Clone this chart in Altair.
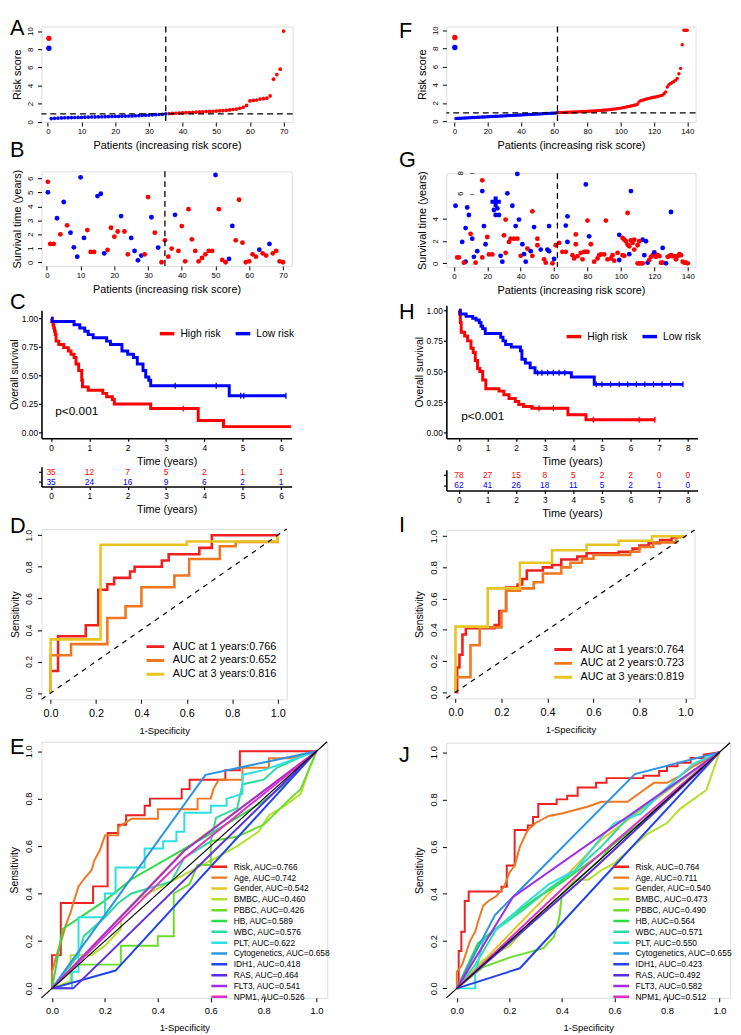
import altair as alt
import pandas as pd

FONT = "Liberation Sans"
RED = "#FF0000"
BLUE = "#0000FF"

# ---------------- A : risk score (training) ----------------
A_low = [0.35,0.38,0.40,0.42,0.44,0.45,0.46,0.47,0.48,0.49,0.50,0.51,0.52,0.53,0.54,0.55,0.56,0.57,0.58,0.59,
         0.60,0.61,0.62,0.63,0.64,0.66,0.68,0.70,0.72,0.74,0.76,0.78,0.80,0.83,0.87]
A_high = [0.90,0.92,0.94,0.96,0.98,1.00,1.02,1.04,1.06,1.08,1.10,1.12,1.14,1.16,1.18,1.20,1.23,1.26,1.30,1.35,
          1.40,1.48,1.60,1.80,2.30,2.35,2.40,2.50,2.55,2.60,2.85,4.70,5.20,5.80,10.0]
A_cut_index = [35]
A_cut_score = [0.87]
A_legend = [[0.3, 9.2, "High"], [0.3, 8.1, "Low"]]

# ---------------- F : risk score (validation) ----------------
F_low = [0.28,0.30,0.31,0.32,0.33,0.34,0.35,0.36,0.37,0.38,0.39,0.40,0.41,0.42,0.43,0.44,0.45,0.46,0.47,0.48,
         0.49,0.50,0.51,0.52,0.53,0.54,0.55,0.56,0.57,0.58,0.59,0.60,0.61,0.62,0.63,0.64,0.65,0.66,0.67,0.68,
         0.69,0.70,0.71,0.72,0.73,0.74,0.75,0.76,0.77,0.78,0.79,0.80,0.81,0.82,0.83,0.84,0.85,0.86,0.87,0.88,
         0.90,0.92]
F_high = [0.94,0.95,0.96,0.96,0.97,0.98,0.98,0.99,1.00,1.00,
          1.01,1.02,1.03,1.04,1.05,1.06,1.07,1.08,1.09,1.10,
          1.11,1.12,1.13,1.15,1.16,1.18,1.19,1.20,1.22,1.24,
          1.26,1.28,1.30,1.32,1.35,1.38,1.40,1.43,1.46,1.50,
          1.54,1.58,1.62,1.66,1.70,1.74,1.78,1.85,2.10,2.25,
          2.30,2.35,2.40,2.45,2.50,2.55,2.60,2.62,2.65,2.70,
          2.75,2.80,2.85,3.00,3.20,3.75,4.00,4.15,4.25,4.35,
          4.50,4.70,5.20,5.80,8.40,10.0,10.0,10.0]
F_cut_index = [62]
F_cut_score = [0.9]
F_legend = [[0.3, 9.2, "High"], [0.3, 8.1, "Low"]]

# ---------------- B : survival time (training), status 1=dead ----------------
B_time = [1.31,1.31,3.15,2.00,4.31,2.64,2.12,1.07,0.40,6.07,
          1.74,2.30,0.74,0.74,4.73,4.90,0.64,0.88,2.47,1.83,
          2.20,3.30,2.20,0.57,1.74,0.81,0.14,0.48,0.57,4.66,
          3.22,2.12,1.05,0.00,1.57,0.40,0.98,3.39,0.81,2.59,
          0.07,3.80,1.64,0.81,0.07,0.31,0.57,0.81,0.81,6.24,
          3.80,0.17,0.00,0.24,2.60,1.57,4.47,1.40,0.00,0.07,
          0.57,0.40,0.90,0.64,0.48,1.31,0.64,0.81,0.07,0.00]
B_status = [1,1,0,1,0,1,0,0,0,0,
            0,1,1,1,0,0,0,1,1,1,
            1,0,1,1,0,0,0,0,1,1,
            0,1,0,1,1,1,1,0,1,1,
            1,1,1,1,1,1,1,1,1,0,
            1,1,1,0,0,1,1,1,1,1,
            1,1,0,1,1,0,1,1,1,1]
B_cut = [35]
B_legend = [[0.3, 5.75, 1], [0.3, 5.0, 0]]

# ---------------- G : survival time (validation) [patient, years, status] ----------------
G_points = [[1,5.18,0],[8,5.03,0],[9,4.35,0],[7,3.17,0],[10,2.66,1],[11,2.22,0],[18,3.35,0],[20,2.37,1],
            [32,6.3,0],[35,5.18,0],[31,3.94,1],[39,3.94,0],[37,3.35,0],[30,2.52,1],[34,2.22,1],[36,2.22,1],
            [38,2.22,1],[47,4.68,1],[48,3.26,0],[50,2.22,1],[57,3.35,0],[67,3.4,0],[68,4.23,0],[79,7.1,0],
            [80,3.85,1],[73,2.6,1],[81,2.43,0],[91,3.85,1],[99,2.57,0],[104,4.53,1],[106,6.5,0],[101,2.28,1],
            [102,2.13,1],[108,2.13,1],[113,2.13,0],[130,4.62,0],[38,8.05,0],[17,7.47,1],[17,6.5,0],
            [24,4.8,0],[26,4.95,0],[25,4.35,0],[27,4.35,0],
            [2,0.53,1],[3,0.53,1],[5,1.93,0],[7,0.15,0],[6,0.06,1],[12,0.59,0],[13,0.06,1],[14,1.1,0],
            [17,0.53,1],[19,1.72,0],[21,0.8,1],[23,0.8,1],[28,0.68,0],[31,0.95,1],[29,0.15,0],[33,1.93,1],
            [41,1.72,0],[40,0.68,1],[42,0.83,0],[43,0.15,0],[44,1.33,1],[46,1.1,0],[47,0.68,1],[50,1.63,1],
            [52,1.24,0],[54,0.36,1],[55,0.06,1],[56,1.24,0],[57,1.1,0],[59,0.0,1],[60,0.39,0],[61,1.63,1],
            [63,1.84,1],[68,1.93,0],[65,1.04,1],[67,1.04,1],[71,0.74,1],[73,1.72,1],[72,0.44,1],[74,0.65,1],
            [76,0.95,1],[77,0.36,1],[78,1.04,1],[79,1.04,1],[80,1.04,1],[82,1.72,1],[84,0.15,1],[86,0.44,1],
            [87,0.74,1],[88,0.8,1],[90,0.8,1],[92,0.36,1],[94,0.44,1],[95,0.74,1],[96,0.24,1],[98,0.95,1],
            [99,0.3,0],[101,0.74,1],[102,0.68,1],[103,1.99,1],[104,1.69,1],[105,1.54,1],[106,2.07,1],
            [105,0.83,0],[107,1.84,1],[108,1.24,1],[110,1.63,1],[111,1.99,1],[110,0.0,1],[111,0.0,1],
            [112,0.0,1],[113,0.0,1],[114,0.74,0],[115,1.99,0],[116,0.06,0],[117,0.3,1],[118,0.59,1],
            [119,0.74,1],[120,0.89,1],[120,0.98,0],[121,0.59,1],[122,0.74,1],[123,0.65,1],[124,0.06,1],
            [125,0.06,1],[125,1.39,0],[127,0.0,0],[128,0.59,1],[129,0.65,1],[130,0.74,1],[131,0.65,1],
            [132,0.65,1],[133,0.36,1],[134,0.65,1],[135,0.83,1],[136,0.74,1],[137,0.15,1],[138,0.06,1],
            [139,0.06,1],[140,0.0,1]]
G_cross = [[25, 5.54]]
G_cut = [62]
G_stray_labels = [[4.3, 8.1, "8"], [4.3, 6.25, "6"]]
G_stray_ticks = [[11, 8.1], [11, 6.25]]

# ---------------- C / H : Kaplan-Meier ----------------
C_high = [[0,1.0],[0.02,0.971],[0.05,0.943],[0.07,0.914],[0.09,0.886],[0.11,0.857],[0.13,0.80],[0.2,0.771],
          [0.33,0.743],[0.45,0.714],[0.52,0.686],[0.6,0.657],[0.65,0.60],[0.72,0.543],[0.8,0.457],[0.82,0.40],
          [0.97,0.371],[1.35,0.343],[1.45,0.314],[1.6,0.29],[1.65,0.25],[2.6,0.21],[3.84,0.105],[4.5,0.052],
          [6.26,0.052]]
C_low = [[0,1.0],[0.03,0.971],[0.6,0.943],[0.75,0.914],[0.88,0.886],[0.97,0.857],[1.1,0.829],[1.45,0.80],
         [1.55,0.771],[1.85,0.714],[2.0,0.686],[2.15,0.657],[2.25,0.60],[2.4,0.543],[2.47,0.486],[2.55,0.457],
         [2.6,0.41],[4.65,0.322],[6.13,0.322]]
C_cens_high = [[3.45,0.21]]
C_cens_low = [[3.24,0.41],[4.31,0.41],[4.95,0.322],[5.03,0.322],[6.13,0.322]]
C_times = [0,1,2,3,4,5,6]
C_risk_high = [35,12,7,5,2,1,1]
C_risk_low = [35,24,16,9,6,2,1]
C_pval = [[0.11, 0.19, "p<0.001"]]

H_high = [[0,1.0],[0.02,0.97],[0.05,0.9],[0.08,0.82],[0.2,0.79],[0.3,0.75],[0.42,0.69],[0.5,0.655],[0.57,0.59],
          [0.65,0.525],[0.73,0.5],[0.83,0.43],[0.94,0.36],[1.4,0.34],[1.57,0.31],[1.75,0.28],[1.97,0.255],
          [2.09,0.23],[2.26,0.215],[2.55,0.20],[3.81,0.148],[4.44,0.107],[6.85,0.107]]
H_low = [[0,1.0],[0.05,0.97],[0.25,0.95],[0.48,0.935],[0.6,0.92],[0.71,0.90],[0.77,0.87],[0.83,0.85],[0.92,0.81],
         [1.46,0.78],[1.54,0.75],[1.63,0.72],[1.83,0.70],[2.15,0.67],[2.2,0.6],[2.32,0.57],[2.49,0.53],[2.66,0.49],
         [3.93,0.455],[4.73,0.395],[7.83,0.395]]
H_cens_high = [[2.8,0.20],[3.3,0.20],[4.7,0.107],[6.3,0.107],[6.85,0.107]]
H_cens_low = [[2.75,0.49],[2.9,0.49],[3.1,0.49],[3.3,0.49],[3.5,0.49],[3.7,0.49],[4.8,0.395],[5.0,0.395],
              [5.3,0.395],[5.6,0.395],[5.9,0.395],[6.2,0.395],[6.5,0.395],[6.8,0.395],[7.1,0.395],[7.4,0.395],
              [7.83,0.395]]
H_times = [0,1,2,3,4,5,6,7,8]
H_risk_high = [78,27,15,8,5,2,2,0,0]
H_risk_low = [62,41,26,18,11,5,2,1,0]
H_pval = [[0.08, 0.14, "p<0.001"]]

# ---------------- D / I : time-dependent ROC ----------------
D_1yr = [[0,0],[0,0.14],[0.033,0.14],[0.033,0.36],[0.155,0.36],[0.155,0.43],[0.21,0.43],[0.21,0.655],
         [0.25,0.655],[0.25,0.69],[0.28,0.69],[0.28,0.73],[0.35,0.73],[0.35,0.77],[0.37,0.77],[0.37,0.80],
         [0.49,0.80],[0.49,0.84],[0.52,0.84],[0.52,0.88],[0.655,0.88],[0.655,0.92],[0.71,0.92],[0.71,1.0],[1.0,1.0]]
D_2yr = [[0,0],[0,0.24],[0.09,0.24],[0.09,0.31],[0.25,0.31],[0.25,0.475],[0.33,0.475],[0.33,0.55],[0.40,0.55],
         [0.40,0.67],[0.545,0.67],[0.545,0.745],[0.61,0.745],[0.61,0.85],[0.745,0.85],[0.745,0.93],[0.815,0.93],
         [0.815,0.958],[1.0,0.958],[1.0,1.0]]
D_3yr = [[0,0],[0,0.34],[0.22,0.34],[0.22,0.94],[0.60,0.94],[0.60,0.96],[1.0,0.96],[1.0,1.0]]
D_labels = ["AUC at 1 years:0.766", "AUC at 2 years:0.652", "AUC at 3 years:0.816"]

I_1yr = [[0,0],[0.007,0],[0.007,0.158],[0.017,0.158],[0.017,0.24],[0.03,0.24],[0.03,0.37],[0.045,0.37],
         [0.045,0.41],[0.17,0.41],[0.17,0.43],[0.19,0.43],[0.19,0.52],[0.22,0.52],[0.22,0.67],[0.27,0.67],
         [0.27,0.69],[0.29,0.69],[0.29,0.725],[0.31,0.725],[0.31,0.78],[0.38,0.78],[0.38,0.80],[0.42,0.80],
         [0.42,0.815],[0.46,0.815],[0.46,0.85],[0.53,0.85],[0.53,0.87],[0.57,0.87],[0.57,0.89],[0.71,0.89],
         [0.71,0.90],[0.77,0.90],[0.77,0.92],[0.80,0.92],[0.80,0.94],[0.84,0.94],[0.84,0.955],[0.89,0.955],
         [0.89,0.975],[0.94,0.975],[0.94,0.99],[1.0,1.0]]
I_2yr = [[0,0],[0,0.095],[0.065,0.095],[0.065,0.30],[0.105,0.30],[0.105,0.415],[0.20,0.415],[0.20,0.52],
         [0.22,0.52],[0.22,0.65],[0.28,0.65],[0.28,0.665],[0.34,0.665],[0.34,0.705],[0.38,0.705],[0.38,0.76],
         [0.46,0.76],[0.46,0.80],[0.50,0.80],[0.50,0.83],[0.55,0.83],[0.55,0.855],[0.60,0.855],[0.60,0.88],
         [0.76,0.88],[0.76,0.90],[0.80,0.90],[0.80,0.93],[0.86,0.93],[0.86,0.96],[0.96,0.96],[0.96,0.99],[1,1]]
I_3yr = [[0,0],[0,0.42],[0.14,0.42],[0.14,0.665],[0.28,0.665],[0.28,0.83],[0.42,0.83],[0.42,0.91],[0.57,0.91],
         [0.57,0.945],[0.71,0.945],[0.71,0.97],[0.855,0.97],[0.855,1.0],[1,1]]
I_labels = ["AUC at 1 years:0.764", "AUC at 2 years:0.723", "AUC at 3 years:0.819"]
ROC3_colors = ["#EE2020", "#EE7722", "#E8C422"]

# ---------------- E / J : multi-variable ROC ----------------
VARS = ["Risk","Age","Gender","BMBC","PBBC","HB","WBC","PLT","Cytogenetics","IDH1","RAS","FLT3","NPM1"]
VAR_colors = ["#EE2020","#EE7722","#E8C422","#B4E02A","#6CDC2A","#2CDC44","#2CDC9C","#2CE0E0","#2C94E4",
              "#2244EE","#5A2CE4","#A22CE4","#E42CC8"]
E_auc = ["0.766","0.742","0.542","0.460","0.426","0.589","0.576","0.622","0.658","0.418","0.464","0.541","0.526"]
J_auc = ["0.764","0.711","0.540","0.473","0.490","0.564","0.571","0.550","0.655","0.423","0.492","0.582","0.512"]

E_curves = [
    D_1yr,
    [[0,0],[0,0.07],[0.02,0.15],[0.04,0.22],[0.05,0.26],[0.07,0.32],[0.08,0.36],[0.10,0.43],[0.12,0.46],
     [0.15,0.50],[0.16,0.54],[0.18,0.58],[0.20,0.645],[0.25,0.645],[0.25,0.68],[0.28,0.70],[0.30,0.715],
     [0.40,0.715],[0.40,0.755],[0.55,0.755],[0.55,0.80],[0.60,0.80],[0.61,0.84],[0.63,0.88],[0.72,0.88],
     [0.72,0.93],[0.82,0.93],[0.82,0.97],[0.90,0.97],[1,1]],
    [[0,0],[0.5,0.584],[1,1]],
    [[0,0],[0.07,0.03],[0.07,0.14],[0.15,0.14],[0.2,0.18],[0.26,0.25],[0.26,0.3],[0.33,0.38],[0.45,0.45],
     [0.55,0.51],[0.62,0.55],[0.7,0.6],[0.78,0.66],[0.82,0.73],[0.88,0.77],[0.94,0.82],[0.97,0.92],[1,1]],
    [[0,0],[0.1,0.1],[0.26,0.1],[0.26,0.18],[0.4,0.18],[0.4,0.22],[0.46,0.22],[0.46,0.4],[0.52,0.44],
     [0.55,0.52],[0.6,0.52],[0.6,0.62],[0.7,0.64],[0.8,0.69],[0.9,0.8],[0.94,0.84],[0.97,0.92],[1,1]],
    [[0,0],[0.04,0.25],[0.2,0.37],[0.3,0.46],[0.58,0.64],[0.7,0.72],[0.8,0.79],[0.9,0.88],[1,1]],
    [[0,0],[0.05,0.07],[0.1,0.14],[0.12,0.22],[0.2,0.3],[0.25,0.36],[0.3,0.4],[0.45,0.45],[0.5,0.55],
     [0.6,0.62],[0.62,0.72],[0.7,0.76],[0.72,0.86],[0.8,0.88],[0.85,0.93],[0.95,0.98],[1,1]],
    [[0,0],[0.075,0],[0.075,0.07],[0.1,0.07],[0.1,0.3],[0.2,0.3],[0.2,0.4],[0.24,0.4],[0.24,0.51],[0.35,0.51],
     [0.35,0.59],[0.42,0.59],[0.42,0.62],[0.47,0.62],[0.47,0.66],[0.5,0.66],[0.5,0.74],[0.6,0.74],[0.6,0.77],
     [0.66,0.77],[0.66,0.80],[0.72,0.82],[0.72,0.9],[0.8,0.92],[0.9,0.96],[1,1]],
    [[0,0],[0.58,0.9],[1,1]],
    [[0,0],[0.24,0.075],[1,1]],
    [[0,0],[0.08,0],[1,1]],
    [[0,0],[0.5,0.58],[1,1]],
    [[0,0],[0.5,0.55],[1,1]],
]
J_curves = [
    I_1yr,
    [[0,0],[0,0.07],[0.02,0.1],[0.05,0.2],[0.07,0.24],[0.08,0.28],[0.1,0.35],[0.12,0.37],[0.15,0.39],
     [0.18,0.43],[0.2,0.49],[0.22,0.52],[0.24,0.6],[0.27,0.67],[0.3,0.7],[0.35,0.73],[0.4,0.74],[0.5,0.77],
     [0.55,0.79],[0.65,0.79],[0.7,0.83],[0.75,0.87],[0.8,0.87],[0.85,0.9],[0.9,0.94],[1,1]],
    [[0,0],[0.55,0.63],[1,1]],
    [[0,0],[0.1,0.12],[0.2,0.18],[0.3,0.3],[0.4,0.4],[0.45,0.46],[0.5,0.46],[0.55,0.5],[0.6,0.53],[0.65,0.58],
     [0.72,0.65],[0.8,0.7],[0.85,0.76],[0.9,0.8],[0.95,0.84],[1,1]],
    [[0,0],[0.1,0.09],[0.2,0.13],[0.33,0.17],[0.37,0.22],[0.39,0.3],[0.4,0.4],[0.45,0.45],[0.55,0.55],
     [0.6,0.62],[0.7,0.7],[0.8,0.8],[1,1]],
    [[0,0],[0.08,0.19],[0.2,0.3],[0.3,0.38],[0.4,0.45],[0.55,0.57],[0.7,0.7],[0.8,0.8],[1,1]],
    [[0,0],[0.07,0.1],[0.15,0.25],[0.25,0.33],[0.35,0.42],[0.45,0.5],[0.55,0.6],[0.65,0.72],[0.75,0.8],
     [0.85,0.88],[1,1]],
    [[0,0],[0.07,0],[0.07,0.06],[0.1,0.2],[0.15,0.25],[0.25,0.35],[0.35,0.44],[0.45,0.5],[0.55,0.64],[0.6,0.7],
     [0.7,0.74],[0.8,0.85],[0.9,0.95],[1,1]],
    [[0,0],[0.145,0.31],[0.678,0.907],[1,1]],
    [[0,0],[0.24,0.085],[1,1]],
    [[0,0],[0.5,0.484],[1,1]],
    [[0,0],[0.213,0.386],[1,1]],
    [[0,0],[0.5,0.524],[1,1]],
]
DIAG = [-0.04, 1.04]


# ================= helpers =================
def axis(orient, vals, title, fmt=None, lsize=8, tsize=11, lpad=2, tpad=3, tick=4):
    kw = dict(values=vals, title=title, domain=False, ticks=True, tickColor="black", tickSize=tick,
              tickWidth=1, labelFontSize=lsize, labelColor="black", labelFont=FONT, titleFont=FONT,
              titleFontSize=tsize, titleColor="black", titleFontWeight="normal", grid=False,
              labelPadding=lpad, titlePadding=tpad, labelFlush=False, labelOverlap=False)
    if fmt:
        kw["format"] = fmt
    if orient == "y":
        kw.update(labelAngle=270, labelAlign="center", labelBaseline="bottom")
    return alt.Axis(**kw)


def km_axis(orient, vals, title, fmt=None, labels=True):
    kw = dict(values=vals, title=title, domain=True, domainColor="black", domainWidth=1.6, ticks=True,
              tickColor="black", tickSize=3, tickWidth=1.2, labelFontSize=8.5, labelColor="black",
              labelFont=FONT, titleFont=FONT, titleFontSize=10.5 if orient == "y" else 11, titleColor="black",
              titleFontWeight="normal", grid=False, labelPadding=1 if orient == "y" else 2,
              titlePadding=2 if orient == "y" else 4, labelFlush=False, labelOverlap=False, labels=labels)
    if fmt:
        kw["format"] = fmt
    return alt.Axis(**kw)


def sc(dom):
    return alt.Scale(domain=dom, nice=False, zero=False)


def letter(t, dx, dy):
    return alt.TitleParams(text=t, anchor="start", frame="group", dx=dx, dy=dy, fontSize=22, font=FONT,
                           fontWeight="normal", baseline="top", offset=-16, color="black")


NOBOX = alt.ViewBackground(stroke="transparent")


def risk_score_panel(low, high, cut_i, cut_s, leg, xdom, ydom, xvals, w, h, let, ldx, ldy, size):
    X = alt.X("x:Q", scale=sc(xdom), axis=axis("x", xvals, "Patients (increasing risk score)", tpad=4))
    Y = alt.Y("y:Q", scale=sc(ydom), axis=axis("y", [0, 2, 4, 6, 8, 10], "Risk score", lpad=3, tpad=4))
    col = alt.Color("g:N", scale=alt.Scale(domain=["High", "Low"], range=[RED, BLUE]), legend=None)
    n = len(low)
    pts = pd.DataFrame({"x": list(range(1, n + len(high) + 1)), "y": low + high,
                        "g": ["Low"] * n + ["High"] * len(high)})
    lg = pd.DataFrame(leg, columns=["x", "y", "g"])
    p = alt.Chart(pts).mark_circle(size=size, opacity=1).encode(X, Y, col)
    pl = alt.Chart(lg).mark_circle(size=30, opacity=1).encode(X, Y, col)
    v = alt.Chart(pd.DataFrame({"x": cut_i})).mark_rule(color="black", strokeDash=[6, 4], strokeWidth=1.3).encode(X)
    hr = alt.Chart(pd.DataFrame({"y": cut_s})).mark_rule(color="black", strokeDash=[6, 4], strokeWidth=1.3).encode(Y)
    return alt.layer(p, pl, v, hr).properties(width=w, height=h, title=letter(let, ldx, ldy))


def surv_panel(pts, cut, xdom, ydom, xvals, yvals, w, h, let, ldx, ldy, extra=None):
    X = alt.X("x:Q", scale=sc(xdom), axis=axis("x", xvals, "Patients (increasing risk score)", tpad=4))
    Y = alt.Y("y:Q", scale=sc(ydom), axis=axis("y", yvals, "Survival time (years)", lpad=3, tpad=4))
    col = alt.Color("s:N", scale=alt.Scale(domain=[1, 0], range=[RED, BLUE]), legend=None)
    d = pd.DataFrame(pts, columns=["x", "y", "s"])
    p = alt.Chart(d).mark_circle(size=24, opacity=1).encode(X, Y, col)
    v = alt.Chart(pd.DataFrame({"x": cut})).mark_rule(color="black", strokeDash=[6, 4], strokeWidth=1.3).encode(X)
    layers = [p, v]
    if extra:
        layers += extra(X, Y)
    return alt.layer(*layers).properties(width=w, height=h, title=letter(let, ldx, ldy))


def km_panel(high, low, ch, cl, pval, xdom, ydom, xvals, w, h, lx, ly, let, ldx, ldy):
    X = alt.X("x:Q", scale=sc(xdom), axis=km_axis("x", xvals, "Time (years)"))
    Y = alt.Y("y:Q", scale=sc(ydom), axis=km_axis("y", [0, 0.25, 0.5, 0.75, 1.0], "Overall survival", ".2f"))
    rows = [{"x": t, "y": s, "g": "High risk"} for t, s in high] + [{"x": t, "y": s, "g": "Low risk"} for t, s in low]
    col = alt.Color("g:N", scale=alt.Scale(domain=["High risk", "Low risk"], range=[RED, BLUE]),
                    legend=alt.Legend(orient="none", legendX=lx, legendY=ly, direction="horizontal", title=None,
                                      symbolType="stroke", symbolStrokeWidth=3.5, symbolSize=220,
                                      labelFontSize=10.5, labelFont=FONT, labelColor="black", columnPadding=8,
                                      labelOffset=4, padding=0))
    lines = alt.Chart(pd.DataFrame(rows)).mark_line(interpolate="step-after", strokeWidth=3).encode(X, Y, col)
    chp = alt.Chart(pd.DataFrame(ch, columns=["x", "y"])).mark_point(
        shape="M0,-1L0,1", size=36, strokeWidth=1.3, filled=False, opacity=1, color=RED).encode(X, Y)
    clp = alt.Chart(pd.DataFrame(cl, columns=["x", "y"])).mark_point(
        shape="M0,-1L0,1", size=36, strokeWidth=1.3, filled=False, opacity=1, color=BLUE).encode(X, Y)
    pt = alt.Chart(pd.DataFrame(pval, columns=["x", "y", "t"])).mark_text(
        align="left", baseline="middle", fontSize=12, font=FONT, color="black").encode(X, Y, text="t:N")
    return alt.layer(lines, chp, clp, pt).properties(width=w, height=h, view=NOBOX,
                                                     title=letter(let, ldx, ldy))


def table_panel(times, nh, nl, xdom, xvals, w, h):
    X = alt.X("x:Q", scale=sc(xdom), axis=km_axis("x", xvals, "Time (years)"))
    Y = alt.Y("y:Q", scale=sc([-0.5, 1.5]), axis=km_axis("y", [0, 1], None, labels=False))
    dh = pd.DataFrame({"x": times, "y": [1] * len(times), "n": [str(v) for v in nh]})
    dl = pd.DataFrame({"x": times, "y": [0] * len(times), "n": [str(v) for v in nl]})
    th = alt.Chart(dh).mark_text(fontSize=8.5, font=FONT, color=RED).encode(X, Y, text="n:N")
    tl = alt.Chart(dl).mark_text(fontSize=8.5, font=FONT, color=BLUE).encode(X, Y, text="n:N")
    return alt.layer(th, tl).properties(width=w, height=h, view=NOBOX)


def roc_panel(curves, labels, colors, w, h, let, ldx, ldy, lx, ly, dashed, lsize, xl, yl, sw, lfs, sym,
              shape, loff, clip):
    X = alt.X("x:Q", scale=sc([-0.04, 1.04]),
              axis=axis("x", [0, 0.2, 0.4, 0.6, 0.8, 1.0], "1-Specificity", ".1f", lsize=xl, tsize=9.5, tpad=8,
                        lpad=4))
    Y = alt.Y("y:Q", scale=sc([-0.04, 1.04]),
              axis=axis("y", [0, 0.2, 0.4, 0.6, 0.8, 1.0], "Sensitivity", ".1f", lsize=yl, tsize=10.5, tpad=4,
                        lpad=4))
    rows = []
    for name, pts in zip(labels, curves):
        for i, (x, y) in enumerate(pts):
            rows.append({"x": x, "y": y, "k": name, "i": i})
    col = alt.Color("k:N", scale=alt.Scale(domain=labels, range=colors), sort=labels,
                    legend=alt.Legend(orient="none", legendX=lx, legendY=ly, title=None, symbolType=shape,
                                      symbolStrokeWidth=sw, symbolSize=sym, labelFontSize=lfs, labelFont=FONT,
                                      labelColor="black", rowPadding=2, clipHeight=clip, labelOffset=loff,
                                      padding=0, symbolLimit=0))
    lines = alt.Chart(pd.DataFrame(rows)).mark_line(strokeWidth=lsize).encode(X, Y, col, order="i:Q")
    dg = pd.DataFrame({"x": DIAG, "y": DIAG})
    if dashed:
        diag = alt.Chart(dg).mark_line(color="black", strokeWidth=1.2, strokeDash=[5, 5]).encode(X, Y)
    else:
        diag = alt.Chart(dg).mark_line(color="black", strokeWidth=1.2).encode(X, Y)
    return alt.layer(lines, diag).properties(width=w, height=h, title=letter(let, ldx, ldy))


def g_extra(X, Y):
    lab = pd.DataFrame(G_stray_labels, columns=["x", "y", "t"])
    tk = pd.DataFrame(G_stray_ticks, columns=["x", "y"])
    cr = pd.DataFrame(G_cross, columns=["x", "y"])
    return [
        alt.Chart(lab).mark_text(angle=270, fontSize=8, font=FONT, color="black", baseline="middle").encode(
            X, Y, text="t:N"),
        alt.Chart(tk).mark_text(fontSize=8, font=FONT, color="black", text="\u2013").encode(X, Y),
        alt.Chart(cr).mark_point(shape="cross", size=110, filled=True, opacity=1, color=BLUE).encode(X, Y),
    ]


# ================= panels =================
LDX, RDX = -32, -48
A = risk_score_panel(A_low, A_high, A_cut_index, A_cut_score, A_legend, [-1.9, 72.7], [-0.04, 10.5],
                     [0, 10, 20, 30, 40, 50, 60, 70], 255, 97, "A", LDX, -2, 14)
F = risk_score_panel(F_low, F_high, F_cut_index, F_cut_score, F_legend, [-4.8, 145.0], [-0.11, 10.4],
                     [0, 20, 40, 60, 80, 100, 120, 140], 253, 97, "F", RDX, 1, 12)

B_pts = [[i + 1, t, s] for i, (t, s) in enumerate(zip(B_time, B_status))] + B_legend
B = surv_panel(B_pts, B_cut, [-1.6, 72.6], [-0.26, 6.5], [0, 10, 20, 30, 40, 50, 60, 70], [0, 1, 2, 3, 4, 5, 6],
               254, 96, "B", LDX, -23)
G = surv_panel(G_points, G_cut, [-4.5, 144.7], [-0.32, 8.1], [0, 20, 40, 60, 80, 100, 120, 140], [0, 2, 4],
               253, 95, "G", RDX, -13, extra=g_extra)

C = km_panel(C_high, C_low, C_cens_high, C_cens_low, C_pval, [-0.25, 6.28], [-0.05, 1.07], C_times,
             254, 130, 118, 14, "C", LDX, -12)
H = km_panel(H_high, H_low, H_cens_high, H_cens_low, H_pval, [-0.44, 8.34], [-0.045, 1.04], H_times,
             255, 135, 120, 22, "H", RDX, 4)
Ct = table_panel(C_times, C_risk_high, C_risk_low, [-0.25, 6.28], C_times, 254, 20)
Ht = table_panel(H_times, H_risk_high, H_risk_low, [-0.44, 8.34], H_times, 255, 21)

D = roc_panel([D_1yr, D_2yr, D_3yr], D_labels, ROC3_colors, 249, 173, "D", LDX, -4, 106.6, 114, True,
              2.6, 11, 8.5, 3, 11, 164, "M-1.56,0L1.56,0", 10.6, 11)
I = roc_panel([I_1yr, I_2yr, I_3yr], I_labels, ROC3_colors, 252, 171, "I", RDX, -6, 109.6, 116, True,
              2.6, 11, 10, 3, 11, 164, "M-1.56,0L1.56,0", 10.6, 11)
E = roc_panel(E_curves, [f"{v}, AUC={a}" for v, a in zip(VARS, E_auc)], VAR_colors, 290, 260, "E", LDX, 4,
              172.5, 123, False, 2.0, 9.5, 9.5, 2.5, 8.5, 98, "M-1.92,0L1.92,0", 9.6, 8)
J = roc_panel(J_curves, [f"{v}, AUC={a}" for v, a in zip(VARS, J_auc)], VAR_colors, 288, 259, "J", RDX, 11,
              169.5, 122, False, 2.0, 9.5, 9.5, 2.5, 8.5, 98, "M-1.92,0L1.92,0", 9.6, 8)


def vjoin(items):
    result = items[-1]
    i = len(items) - 3
    while i >= 0:
        result = alt.vconcat(items[i], result, spacing=items[i + 1], bounds="flush").resolve_scale(
            x="independent", y="independent", color="independent")
        i -= 2
    return result


left = vjoin([A, 50, B, 45, C, 29, Ct, 43, D, 43, E])
right = vjoin([F, 52, G, 39, H, 32, Ht, 40, I, 45, J])

# nested flush groups report zero width, so the spacing is the offset between the two plot columns
chart = alt.hconcat(left, right, spacing=411, bounds="flush").resolve_scale(
    x="independent", y="independent", color="independent"
).properties(padding=0).configure_view(stroke="black", strokeWidth=1).configure(font=FONT)

chart.save("out.html", embed_options={"renderer": "svg", "actions": False})
